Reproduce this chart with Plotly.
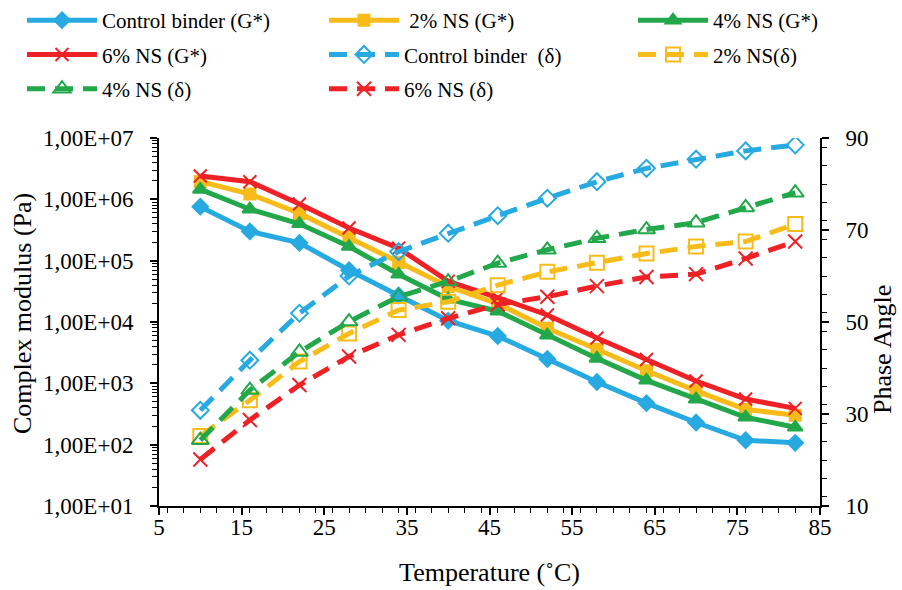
import plotly.graph_objects as go

# Test temperatures (°C)
temperature = [10, 16, 22, 28, 34, 40, 46, 52, 58, 64, 70, 76, 82]

# Complex modulus G* (Pa)
g_control = [7.6e5, 3.0e5, 1.95e5, 7.0e4, 2.7e4, 1.05e4, 5.9e3, 2.5e3, 1.05e3, 475, 230, 118, 107]
g_ns2 = [1.95e6, 1.22e6, 5.9e5, 2.4e5, 9.3e4, 3.8e4, 2.0e4, 7.9e3, 3.6e3, 1.6e3, 755, 375, 302]
g_ns4 = [1.45e6, 6.9e5, 4.0e5, 1.7e5, 6.0e4, 2.35e4, 1.5e4, 6.1e3, 2.55e3, 1.12e3, 550, 280, 192]
g_ns6 = [2.4e6, 1.94e6, 8.4e5, 3.4e5, 1.6e5, 4.6e4, 2.5e4, 1.3e4, 5.5e3, 2.45e3, 1.09e3, 555, 390]

# Phase angle δ (degrees)
d_control = [30.8, 41.7, 51.9, 60.0, 65.3, 69.3, 73.1, 76.9, 80.5, 83.4, 85.4, 87.2, 88.5]
d_ns2 = [25.2, 33.0, 41.4, 47.5, 52.6, 54.4, 58.0, 60.9, 62.9, 64.9, 66.4, 67.5, 71.3]
d_ns4 = [24.3, 35.2, 43.5, 50.1, 55.5, 58.8, 62.8, 65.7, 68.2, 70.1, 71.6, 74.9, 78.1]
d_ns6 = [20.1, 28.7, 36.3, 42.5, 47.2, 50.8, 53.8, 55.5, 57.8, 59.8, 60.4, 63.8, 67.5]

# Axis tick labels
g_tickvals = [1e1, 1e2, 1e3, 1e4, 1e5, 1e6, 1e7]
g_ticktext = ["1,00E+01", "1,00E+02", "1,00E+03", "1,00E+04", "1,00E+05", "1,00E+06", "1,00E+07"]

BLUE = "#27A9E1"
YELLOW = "#F8BC1A"
GREEN = "#22A84A"
RED = "#EE2226"
FONT = "Liberation Serif"
DASH = "18px,10px"
W, H = 902, 590

fig = go.Figure()

# (name, values, colour, symbol, size, y axis, dashed, legend column)
series = [
    ("Control binder (G*)", g_control, BLUE, "diamond", 12, "y", False, "legend"),
    (" 2% NS (G*)", g_ns2, YELLOW, "square", 11, "y", False, "legend2"),
    ("4% NS (G*)", g_ns4, GREEN, "triangle-up", 13, "y", False, "legend3"),
    ("6% NS (G*)", g_ns6, RED, "x-thin-open", 13, "y", False, "legend"),
    ("Control binder  (δ)", d_control, BLUE, "diamond-open", 13, "y2", True, "legend2"),
    ("2% NS(δ)", d_ns2, YELLOW, "square-open", 14, "y2", True, "legend3"),
    ("4% NS (δ)", d_ns4, GREEN, "triangle-up-open", 15, "y2", True, "legend"),
    ("6% NS (δ)", d_ns6, RED, "x-thin-open", 14, "y2", True, "legend2"),
]

for i, (name, y, c, sym, sz, ax, dashed, lg) in enumerate(series):
    fig.add_trace(go.Scatter(
        x=temperature, y=y, name=name, mode="lines+markers",
        legend=lg, legendgroup=f"g{i}",
        line=dict(color=c, width=5, dash=DASH if dashed else "solid"),
        marker=dict(symbol=sym, size=sz, color=c, line=dict(color=c, width=2)),
        yaxis=ax,
    ))

legend_common = dict(
    orientation="v", xref="container", yref="container",
    xanchor="left", yanchor="top", y=1 + 2 / H,
    itemwidth=70, tracegroupgap=4,
    font=dict(family=FONT, size=21, color="#000"),
    bgcolor="rgba(0,0,0,0)",
)

axis_common = dict(
    showline=True, linecolor="#000", linewidth=2,
    ticks="outside", ticklen=7, tickwidth=1.5, tickcolor="#000",
    showgrid=False, zeroline=False, tickfont=dict(size=23),
)

fig.update_layout(
    width=W, height=H,
    margin=dict(l=159, r=82, t=138, b=84, autoexpand=False),
    paper_bgcolor="white", plot_bgcolor="white",
    font=dict(family=FONT, size=23, color="#000"),
    legend=dict(legend_common, x=22 / W),
    legend2=dict(legend_common, x=324 / W),
    legend3=dict(legend_common, x=633 / W),
    xaxis=dict(
        axis_common,
        range=[5, 85], dtick=10, tick0=5,
        minor=dict(ticks="outside", dtick=2, ticklen=5, tickwidth=1, tickcolor="#000"),
        title=dict(text="Temperature (˚C)", font=dict(size=26), standoff=24),
        ticklabelstandoff=-8,
    ),
    yaxis=dict(
        axis_common,
        type="log", range=[1, 7],
        tickvals=g_tickvals, ticktext=g_ticktext,
        minor=dict(ticks="outside", dtick="D1", ticklen=5, tickwidth=1, tickcolor="#000"),
        ticklabelstandoff=12,
    ),
    yaxis2=dict(
        axis_common,
        overlaying="y", side="right", range=[10, 90],
        dtick=20, tick0=10,
        minor=dict(ticks="outside", dtick=4, ticklen=5, tickwidth=1, tickcolor="#000"),
        ticklabelstandoff=12,
    ),
    annotations=[
        dict(text="Complex modulus (Pa)", textangle=-90, showarrow=False,
             xref="paper", yref="paper", x=-(159 - 22) / (W - 159 - 82),
             y=(H - 84 - 314) / (H - 138 - 84), xanchor="center", yanchor="middle",
             font=dict(size=26, family=FONT, color="#000")),
        dict(text="Phase Angle", textangle=-90, showarrow=False,
             xref="paper", yref="paper", x=1 + (882 - (W - 82)) / (W - 159 - 82),
             y=(H - 84 - 350) / (H - 138 - 84), xanchor="center", yanchor="middle",
             font=dict(size=26, family=FONT, color="#000")),
    ],
)

fig.write_html("out.html")
